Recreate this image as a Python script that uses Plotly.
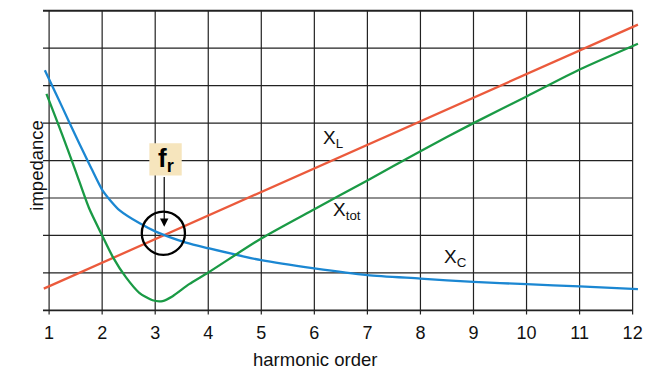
import plotly.graph_objects as go

# harmonic order ticks and impedance grid levels
harmonics = [1, 2, 3, 4, 5, 6, 7, 8, 9, 10, 11, 12]
levels = [0, 1, 2, 3, 4, 5, 6, 7, 8]

# X_L (inductive reactance)
xl_h = [0.9, 12.1]
xl_val = [0.58, 7.63]

# X_C (capacitive reactance)
xc_h = [0.92, 1.0, 1.25, 1.5, 1.64, 1.8, 2.0, 2.17, 2.33, 2.7, 3.0,
        3.58, 4.0, 5.0, 6.0, 7.0, 8.0, 9.0, 10.0, 11.0, 12.1]
xc_val = [6.41, 6.17, 5.42, 4.66, 4.25, 3.78, 3.22, 2.91, 2.67, 2.33, 2.11,
          1.81, 1.66, 1.34, 1.12, 0.94, 0.85, 0.76, 0.70, 0.64, 0.57]

# X_tot (total impedance)
xtot_h = [0.95, 1.0, 1.25, 1.5, 1.75, 2.0, 2.2, 2.45, 2.7,
          2.95, 3.14, 3.33, 3.64, 4.0, 5.0, 6.0, 7.0, 8.0, 9.0, 10.0, 11.0, 12.1]
xtot_val = [5.78, 5.60, 4.68, 3.72, 2.74, 2.0, 1.43, 0.88, 0.47,
            0.27, 0.25, 0.38, 0.70, 1.01, 1.92, 2.70, 3.47, 4.25, 5.0, 5.71, 6.43, 7.12]

# resonance point
fr_h, fr_val = 3.154, 2.06

RED = "#eb5a3c"
BLUE = "#1b87d2"
GREEN = "#1a9a45"
FONT = "Liberation Sans, Arial, sans-serif"

fig = go.Figure()
fig.add_trace(go.Scatter(x=xl_h, y=xl_val, mode="lines", line=dict(color=RED, width=2.3)))
fig.add_trace(go.Scatter(x=xc_h, y=xc_val, mode="lines",
                         line=dict(color=BLUE, width=2.3, shape="spline", smoothing=0.7)))
fig.add_trace(go.Scatter(x=xtot_h, y=xtot_val, mode="lines",
                         line=dict(color=GREEN, width=2.3, shape="spline", smoothing=0.7)))

# grid drawn as shapes so the curves can run a little past the frame
for lv in levels:
    w = 1.8 if lv in (levels[0], levels[-1]) else 1.2
    fig.add_shape(type="line", x0=0.885, x1=harmonics[-1], y0=lv, y1=lv,
                  line=dict(color="#222", width=w), layer="below")
for h in harmonics:
    fig.add_shape(type="line", x0=h, x1=h, y0=-0.11, y1=levels[-1],
                  line=dict(color="#222", width=1.2), layer="below")

# resonance marker
fig.add_shape(type="circle", x0=fr_h - 0.407, x1=fr_h + 0.407,
              y0=fr_val - 0.579, y1=fr_val + 0.579, line=dict(color="black", width=2.3))
fig.add_shape(type="rect", x0=2.89, x1=3.50, y0=3.60, y1=4.46,
              fillcolor="#f6e5bd", line=dict(width=0))
fig.add_annotation(x=3.17, y=2.23, ax=3.17, ay=3.60, axref="x", ayref="y",
                   text="", showarrow=True, arrowhead=2, arrowsize=1.4,
                   arrowwidth=1.2, arrowcolor="black")
fig.add_annotation(x=3.197, y=4.03, text="<b>f<sub>r</sub></b>", showarrow=False,
                   font=dict(family=FONT, size=26, color="black"))

# curve labels
labels = [("X<sub>L</sub>", 6.36, 4.58), ("X<sub>tot</sub>", 6.62, 2.65), ("X<sub>C</sub>", 8.67, 1.40)]
for txt, lx, ly in labels:
    fig.add_annotation(x=lx, y=ly, text=txt, showarrow=False,
                       font=dict(family=FONT, size=19, color="#111"))

# axis titles
fig.add_annotation(x=6.02, y=-0.142, yref="paper", text="harmonic order", showarrow=False,
                   yanchor="middle", borderpad=0, font=dict(family=FONT, size=18.5, color="#111"))
fig.add_annotation(x=-0.0334, xref="paper", y=3.88, text="impedance", showarrow=False,
                   textangle=-90, font=dict(family=FONT, size=18.5, color="#111"))

fig.update_xaxes(range=[0.885, 12.12], tickvals=harmonics, showgrid=False, zeroline=False,
                 showline=False, ticks="", ticklabelstandoff=4,
                 tickfont=dict(family=FONT, size=18, color="#111"))
fig.update_yaxes(range=[-0.15, 8.1], showgrid=False, zeroline=False, showline=False,
                 showticklabels=False, ticks="")
fig.update_layout(width=650, height=371, margin=dict(l=43, r=8, t=7, b=55),
                  plot_bgcolor="white", paper_bgcolor="white", showlegend=False)

# drop the browser's default body margin so the figure sits at the page corner
fig.write_html("out.html", config={"displayModeBar": False},
               post_script="document.body.style.margin='0';")
